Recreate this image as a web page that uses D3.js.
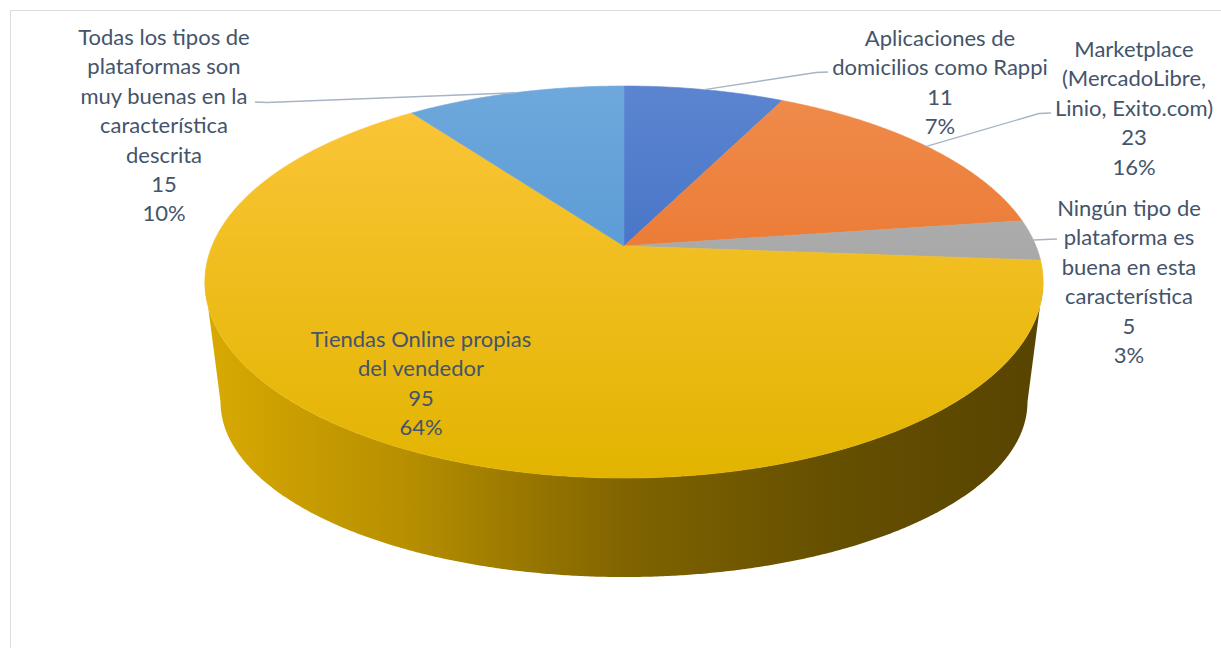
<!DOCTYPE html>
<html>
<head>
<meta charset="utf-8">
<script src="https://cdn.jsdelivr.net/npm/d3@7"></script>
<style>
  html, body { margin: 0; padding: 0; background: #ffffff; }
  svg { display: block; }
</style>
</head>
<body>
<svg id="chart" width="1221" height="648"></svg>
<script>
// ---- data ----
const categories = [
  "Aplicaciones de domicilios como Rappi",
  "Marketplace (MercadoLibre, Linio, Exito.com)",
  "Ningún tipo de plataforma es buena en esta característica",
  "Tiendas Online propias del vendedor",
  "Todas los tipos de plataformas son muy buenas en la característica descrita"
];
const values = [11, 23, 5, 95, 15];
const percentLabels = ["7%", "16%", "3%", "64%", "10%"];
const labelLines = [
  ["Aplicaciones de", "domicilios como Rappi"],
  ["Marketplace", "(MercadoLibre,", "Linio, Exito.com)"],
  ["Ningún tipo de", "plataforma es", "buena en esta", "característica"],
  ["Tiendas Online propias", "del vendedor"],
  ["Todas los tipos de", "plataformas son", "muy buenas en la", "característica", "descrita"]
];

// ---- styling / layout ----
const topLight  = ["#5B85D0", "#F08C4C", "#B7B7B7", "#FCC63A", "#6EA8DC"];
const topDark   = ["#3260BE", "#E5661A", "#969696", "#E2B400", "#448BCD"];
const sideStops = [
  [["#3A5FA8"], ["#1E3A70"]],
  [["#C86A28"], ["#7A3C10"]],
  [["#8C8C8C"], ["#555555"]],
  [["#D9AA02", 0], ["#B78F00", 0.24], ["#806400", 0.5], ["#654F00", 0.75], ["#584400", 1]],
  [["#4E86BC"], ["#2A5680"]]
];
const labelLayout = [
  { x: 940,  y: 38,  leader: [828, 72] },
  { x: 1134, y: 49,  leader: [1051, 113] },
  { x: 1129, y: 208, leader: [1057, 239] },
  { x: 421,  y: 339, leader: null },
  { x: 164,  y: 37,  leader: [255, 102] }
];
const lineHeight = 29.4;
const textColor = "#44546A";

const svg = d3.select("#chart");
const defs = svg.append("defs");

// Chart area frame
svg.append("rect")
  .attr("x", 10.5).attr("y", 10.5)
  .attr("width", 1240).attr("height", 700)
  .attr("fill", "none").attr("stroke", "#D9DEE5").attr("stroke-width", 1);

// ---- perspective projection of the pie disc ----
// top face
const CX = 624, CY = 246, K = 412, A = 189.4, B = 0.1837;
// bottom face
const KB = 396.6, AB = 169.1, CYB = 369.9;

function topPt(a, r = 1) {
  const u = r * Math.sin(a), v = -r * Math.cos(a), d = 1 - B * v;
  return [CX + K * u / d, CY + A * v / d];
}
function botPt(a, r = 1) {
  const u = r * Math.sin(a), v = -r * Math.cos(a), d = 1 - B * v;
  return [CX + KB * u / d, CYB + AB * v / d];
}
function arcSamples(s, e) {
  const n = Math.max(2, Math.ceil((e - s) / 0.006));
  return d3.range(n + 1).map(i => s + (e - s) * i / n);
}
// front-facing part of the rim lies between the two silhouette angles
const rimFrom = Math.acos(-B);
const rimTo = 2 * Math.PI - Math.acos(-B);

const pie = d3.pie().sort(null).value(d => d);
const arcs = pie(values);
const line = d3.line().curve(d3.curveLinear);

// gradients
arcs.forEach((d, i) => {
  const g = defs.append("linearGradient")
    .attr("id", "top" + i)
    .attr("gradientUnits", "userSpaceOnUse")
    .attr("x1", 0).attr("y1", CY - A / (1 + B))
    .attr("x2", 0).attr("y2", CY + A / (1 - B));
  g.append("stop").attr("offset", 0).attr("stop-color", topLight[i]);
  g.append("stop").attr("offset", 1).attr("stop-color", topDark[i]);

  const s = defs.append("linearGradient")
    .attr("id", "side" + i)
    .attr("gradientUnits", "userSpaceOnUse")
    .attr("x1", CX - 420).attr("y1", 0)
    .attr("x2", CX + 420).attr("y2", 0);
  sideStops[i].forEach(([c, o], k, arr) =>
    s.append("stop").attr("offset", o != null ? o : k / (arr.length - 1)).attr("stop-color", c));
});

// side walls (visible front rim only)
const sides = svg.append("g");
arcs.forEach((d, i) => {
  const s = Math.max(d.startAngle, rimFrom), e = Math.min(d.endAngle, rimTo);
  if (e <= s) return;
  const as = arcSamples(s, e);
  const pts = as.map(a => topPt(a)).concat(as.slice().reverse().map(a => botPt(a)));
  sides.append("path")
    .attr("d", line(pts) + "Z")
    .attr("fill", `url(#side${i})`)
    .attr("stroke", "none");
});

// top faces
const tops = svg.append("g");
arcs.forEach((d, i) => {
  const pts = [[CX, CY]].concat(arcSamples(d.startAngle, d.endAngle).map(a => topPt(a)));
  tops.append("path")
    .attr("d", line(pts) + "Z")
    .attr("fill", `url(#top${i})`)
    .attr("stroke", `url(#top${i})`)
    .attr("stroke-width", 0.6)
    .attr("stroke-linejoin", "round");
});

// leader lines
const leaders = svg.append("g")
  .attr("fill", "none").attr("stroke", "#A7B4C4").attr("stroke-width", 1.4);
arcs.forEach((d, i) => {
  const L = labelLayout[i];
  if (!L.leader) return;
  const mid = (d.startAngle + d.endAngle) / 2;
  const end = topPt(mid);
  const [sx, sy] = L.leader;
  const elbowX = sx + (end[0] < sx ? -12 : 12);
  leaders.append("path").attr("d", line([[sx, sy], [elbowX, sy + 0.5], end]));
});

// data labels
const labels = svg.append("g")
  .attr("font-family", "Lato, 'Open Sans', sans-serif")
  .attr("font-size", 22)
  .attr("fill", textColor)
  .attr("text-anchor", "middle");
arcs.forEach((d, i) => {
  const L = labelLayout[i];
  const rows = labelLines[i].concat([String(d.data), percentLabels[i]]);
  const t = labels.append("text").attr("x", L.x).attr("y", L.y);
  rows.forEach((r, k) => {
    t.append("tspan").attr("x", L.x).attr("y", L.y + k * lineHeight).attr("dy", "0.36em").text(r);
  });
});
</script>
</body>
</html>
